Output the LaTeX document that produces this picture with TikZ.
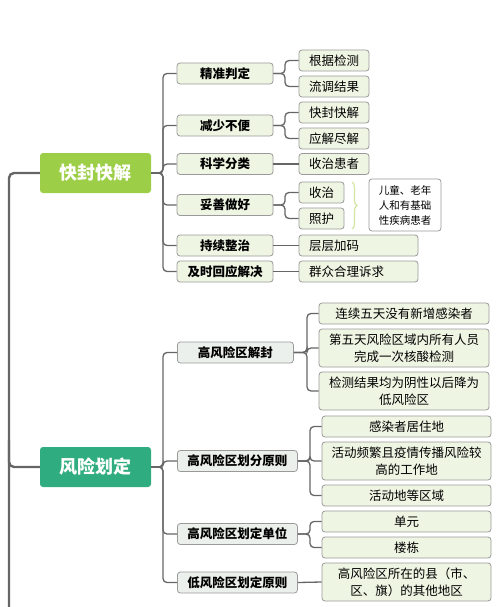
\documentclass[tikz,border=0pt]{standalone}
\usepackage{fontspec}
\setmainfont{Noto Sans CJK SC}
\usetikzlibrary{decorations.pathreplacing}
\definecolor{rootA}{HTML}{9CCF47}
\definecolor{rootB}{HTML}{30AD80}
\definecolor{fillA}{HTML}{EEF5E3}
\definecolor{fillB}{HTML}{ECF0EC}
\definecolor{edgegray}{HTML}{9A9A9A}
\definecolor{linegray}{HTML}{666666}
\definecolor{bracecol}{HTML}{D3E5A0}
\tikzset{
  rootbox/.style={rounded corners=3pt, text=white, font=\bfseries\fontsize{18}{20}\selectfont, minimum width=111pt, minimum height=40pt, inner sep=0pt},
  lvA/.style={draw=edgegray, line width=0.8pt, fill=fillA, rounded corners=3pt, font=\bfseries\fontsize{12.5}{15}\selectfont, minimum height=21pt, inner sep=0pt},
  lvB/.style={draw=edgegray, line width=0.8pt, fill=fillB, rounded corners=3pt, font=\bfseries\fontsize{12.5}{15}\selectfont, minimum height=21pt, inner xsep=10pt, inner ysep=0pt, anchor=west},
  leaf/.style={draw=edgegray, line width=0.8pt, fill=fillA, rounded corners=3pt, font=\fontsize{12.5}{17.5}\selectfont, minimum height=21pt, inner sep=0pt, align=center},
  leafleft/.style={draw=edgegray, line width=0.8pt, fill=fillA, rounded corners=3pt, font=\fontsize{12.5}{17.5}\selectfont, minimum height=21pt, inner xsep=10pt, inner ysep=0pt, text width=99pt, align=left},
  notebox/.style={draw=edgegray, line width=0.8pt, fill=white, rounded corners=3pt, font=\fontsize{10.5}{15}\selectfont, minimum width=72pt, minimum height=52pt, inner sep=0pt, align=left},
  conn/.style={draw=linegray, line width=1.3pt, rounded corners=4pt},
  trunk/.style={draw=linegray, line width=2.4pt, rounded corners=5pt},
}
\begin{document}
\begin{tikzpicture}[x=1pt,y=-1pt]
\useasboundingbox (0,0) rectangle (500,607);
% roots
\node[rootbox, fill=rootA] (r1) at (95.5,173) {快封快解};
\node[rootbox, fill=rootB] (r2) at (95.5,467) {风险划定};
\coordinate (tbot) at (9,607);
\coordinate (tmid) at (9,440);
\draw[trunk] (r1.west) -- (9,173) -- (tbot);
\draw[trunk] (tmid) |- (r2.west);
% group 1 level 1
\node[lvA, minimum width=96pt] (a1) at (225,73.5) {精准判定};
\node[lvA, minimum width=96pt] (a2) at (225,125.5) {减少不便};
\node[lvA, minimum width=96pt] (a3) at (225,164) {科学分类};
\node[lvA, minimum width=96pt] (a4) at (225,205) {妥善做好};
\node[lvA, minimum width=96pt] (a5) at (225,245.5) {持续整治};
\node[lvA, minimum width=96pt] (a6) at (225,271.5) {及时回应解决};
\foreach \n in {a1,a2,a3,a4,a5,a6}{\draw[conn] (r1.east) -- (163,173) |- (\n.west);}
% group 1 level 2
\node[leaf, minimum width=70pt] (b1) at (334,60.5) {根据检测};
\node[leaf, minimum width=70pt] (b2) at (334,86.5) {流调结果};
\node[leaf, minimum width=70pt] (b3) at (334,112.5) {快封快解};
\node[leaf, minimum width=70pt] (b4) at (334,138.5) {应解尽解};
\node[leaf, minimum width=70pt] (b5) at (334,164) {收治患者};
\node[leaf, minimum width=45pt] (b6) at (321.5,192.5) {收治};
\node[leaf, minimum width=45pt] (b7) at (321.5,218.5) {照护};
\node[leafleft] (b8) at (358.5,245.5) {层层加码};
\node[leafleft] (b9) at (358.5,271.5) {群众合理诉求};
\node[notebox] (nt) at (405,205) {儿童、老年\\人和有基础\\性疾病患者};
\draw[conn] (a1.east) -- (285,73.5) |- (b1.west);
\draw[conn] (a1.east) -- (285,73.5) |- (b2.west);
\draw[conn] (a2.east) -- (285,125.5) |- (b3.west);
\draw[conn] (a2.east) -- (285,125.5) |- (b4.west);
\draw[conn] (a3.east) -- (b5.west);
\draw[conn] (a4.east) -- (285,205) |- (b6.west);
\draw[conn] (a4.east) -- (285,205) |- (b7.west);
\draw[conn] (a5.east) -- (b8.west);
\draw[conn] (a6.east) -- (b9.west);
\draw[bracecol, line width=1.2pt, decorate, decoration={brace, amplitude=5pt}] (352,182) -- (352,229);
% group 2 level 1
\node[lvB, minimum width=116pt] (c1) at (177,352.5) {高风险区解封};
\node[lvB, minimum width=120pt] (c2) at (177,461) {高风险区划分原则};
\node[lvB, minimum width=120pt] (c3) at (177,534) {高风险区划定单位};
\node[lvB, minimum width=120pt] (c4) at (177,582.5) {低风险区划定原则};
\foreach \n in {c1,c2,c3,c4}{\draw[conn] (r2.east) -- (163,467) |- (\n.west);}
% group 2 level 2
\node[leaf, minimum width=170pt] (d1) at (404,313.5) {连续五天没有新增感染者};
\node[leaf, minimum width=170pt, minimum height=38pt] (d2) at (404,348) {第五天风险区域内所有人员\\完成一次核酸检测};
\node[leaf, minimum width=170pt, minimum height=38pt] (d3) at (404,391) {检测结果均为阴性以后降为\\低风险区};
\node[leaf, minimum width=169pt] (d4) at (406.5,426.5) {感染者居住地};
\node[leaf, minimum width=169pt, minimum height=38pt] (d5) at (406.5,461) {活动频繁且疫情传播风险较\\高的工作地};
\node[leaf, minimum width=169pt] (d6) at (406.5,495.5) {活动地等区域};
\node[leaf, minimum width=169pt] (d7) at (406.5,521.5) {单元};
\node[leaf, minimum width=169pt] (d8) at (406.5,547.5) {楼栋};
\node[leaf, minimum width=169pt, minimum height=38pt] (d9) at (406.5,582) {高风险区所在的县（市、\\区、旗）的其他地区};
\foreach \n in {d1,d2,d3}{\draw[conn] (c1.east) -- (307,352.5) |- (\n.west);}
\foreach \n in {d4,d5,d6}{\draw[conn] (c2.east) -- (310,461) |- (\n.west);}
\foreach \n in {d7,d8}{\draw[conn] (c3.east) -- (310,534) |- (\n.west);}
\draw[conn] (c4.east) -- (d9.west);
\end{tikzpicture}
\end{document}
